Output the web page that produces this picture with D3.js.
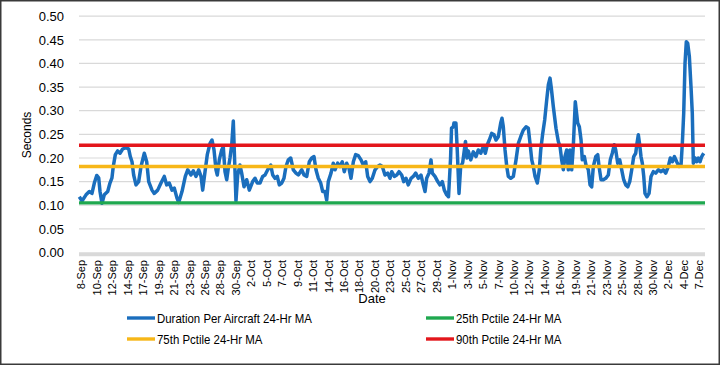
<!DOCTYPE html>
<html>
<head>
<meta charset="utf-8">
<script src="https://cdn.jsdelivr.net/npm/d3@7"></script>
<style>
  body { margin: 0; background: #fff; }
  svg { display: block; font-family: "Liberation Sans", Arial, sans-serif; }
</style>
</head>
<body>
<svg width="720" height="365"></svg>
<script>
var svg = d3.select("svg");
var width = 720;
var height = 365;

// x tick labels, one every 2.25 days (54 hourly points)
var dateLabels = ["8-Sep", "10-Sep", "12-Sep", "14-Sep", "17-Sep", "19-Sep", "21-Sep", "23-Sep",
  "26-Sep", "28-Sep", "30-Sep", "2-Oct", "5-Oct", "7-Oct", "9-Oct", "11-Oct", "14-Oct", "16-Oct",
  "18-Oct", "20-Oct", "23-Oct", "25-Oct", "27-Oct", "29-Oct", "1-Nov", "3-Nov", "5-Nov", "7-Nov",
  "10-Nov", "12-Nov", "14-Nov", "16-Nov", "19-Nov", "21-Nov", "23-Nov", "25-Nov", "28-Nov",
  "30-Nov", "2-Dec", "4-Dec", "7-Dec"];
var labelStep = 2.25;

var yTicks = [0, 0.05, 0.10, 0.15, 0.20, 0.25, 0.30, 0.35, 0.40, 0.45, 0.50];

// days since 8-Sep
var dayOffset = [
  -0.25, 0.15, 0.73, 1.21, 1.6, 1.94, 2.29, 2.58, 2.77, 3.06, 3.39, 3.89, 4.22, 4.51, 4.7, 5.0,
  5.34, 5.68, 6.07, 6.55, 6.95, 7.18, 7.43, 7.67, 8.01, 8.4, 8.74, 9.22, 9.57, 9.86, 10.34, 10.67,
  11.17, 11.65, 12.13, 12.48, 12.86, 13.25, 13.59, 13.98, 14.23, 14.71, 15.19, 15.54, 16.02, 16.35,
  16.75, 17.14, 17.48, 17.72, 18.06, 18.39, 18.79, 19.08, 19.37, 19.66, 19.85, 20.14, 20.49, 20.72,
  20.97, 21.22, 21.45, 21.7, 21.95, 22.18, 22.38, 22.57, 22.82, 23.15, 23.4, 23.74, 24.13, 24.51,
  25.0, 25.34, 25.67, 26.07, 26.46, 26.8, 27.19, 27.63, 27.92, 28.25, 28.59, 28.88, 29.23, 29.56,
  29.85, 30.19, 30.54, 30.92, 31.31, 31.65, 32.14, 32.48, 32.87, 33.25, 33.6, 33.93, 34.22, 34.56,
  34.91, 35.2, 35.53, 35.78, 36.01, 36.41, 36.74, 36.99, 37.38, 37.72, 38.05, 38.34, 38.69, 39.03,
  39.32, 39.66, 40.0, 40.38, 40.78, 41.11, 41.46, 41.75, 42.09, 42.42, 42.82, 43.21, 43.54, 43.88,
  44.27, 44.66, 45.0, 45.25, 45.63, 45.98, 46.31, 46.7, 47.0, 47.33, 47.66, 48.06, 48.39, 48.74,
  49.12, 49.51, 49.85, 50.1, 50.34, 50.68, 50.97, 51.16, 51.55, 51.95, 52.28, 52.62, 52.91, 53.26,
  53.52, 53.82, 53.96, 54.22, 54.31, 54.6, 54.79, 55.05, 55.29, 55.58, 55.99, 56.21, 56.4, 56.75,
  57.13, 57.52, 57.86, 58.21, 58.59, 58.88, 59.17, 59.46, 59.81, 60.15, 60.44, 60.77, 61.12, 61.31,
  61.5, 61.75, 62.0, 62.23, 62.58, 62.96, 63.35, 63.69, 64.03, 64.41, 64.81, 65.14, 65.39, 65.64,
  65.87, 66.12, 66.45, 66.74, 66.95, 67.24, 67.53, 67.82, 68.06, 68.3, 68.49, 68.78, 69.17, 69.51,
  69.76, 70.0, 70.24, 70.48, 70.73, 70.97, 71.21, 71.46, 71.69, 71.98, 72.33, 72.57, 72.82, 73.0,
  73.3, 73.54, 73.88, 74.13, 74.37, 74.61, 74.96, 75.25, 75.44, 75.73, 76.06, 76.41, 76.79, 77.08,
  77.37, 77.66, 77.87, 78.16, 78.45, 78.74, 79.03, 79.33, 79.62, 79.91, 80.2, 80.49, 80.78, 80.97,
  81.16, 81.36, 81.55, 81.74, 81.95, 82.13, 82.42, 82.72, 83.01, 83.34, 83.69, 84.07, 84.47, 84.8,
  85.15, 85.53, 85.82, 86.11, 86.41, 86.75, 87.09, 87.38, 87.57, 87.77, 87.96, 88.15, 88.35, 88.59,
  88.83, 89.02, 89.17, 89.42, 89.66, 89.9, 90.15, 90.39, 90.68];

// seconds, duration per aircraft 24-hr moving average
var duration = [
  0.118, 0.109, 0.122, 0.129, 0.125, 0.147, 0.163, 0.158, 0.129, 0.104, 0.122, 0.129, 0.147, 0.158, 0.182, 0.207,
  0.215, 0.21, 0.219, 0.222, 0.219, 0.203, 0.192, 0.164, 0.143, 0.15, 0.182, 0.21, 0.192, 0.15, 0.132, 0.125,
  0.132, 0.147, 0.161, 0.143, 0.147, 0.132, 0.136, 0.115, 0.106, 0.129, 0.161, 0.175, 0.164, 0.173,
  0.161, 0.175, 0.161, 0.132, 0.171, 0.207, 0.231, 0.238, 0.217, 0.175, 0.164, 0.196, 0.217, 0.224,
  0.171, 0.154, 0.178, 0.2, 0.228, 0.278, 0.192, 0.109, 0.164, 0.185, 0.168, 0.139, 0.154, 0.132,
  0.15, 0.157, 0.147, 0.147, 0.161, 0.164, 0.175, 0.185, 0.164, 0.157, 0.161, 0.143, 0.147, 0.157,
  0.182, 0.196, 0.2, 0.175, 0.168, 0.164, 0.175, 0.164, 0.161, 0.192, 0.2, 0.203, 0.175, 0.157,
  0.147, 0.129, 0.129, 0.111, 0.15, 0.168, 0.189, 0.175, 0.189, 0.182, 0.192, 0.171, 0.189, 0.178,
  0.157, 0.192, 0.207, 0.205, 0.196, 0.185, 0.192, 0.161, 0.15, 0.157, 0.175, 0.182, 0.185, 0.182,
  0.164, 0.168, 0.157, 0.171, 0.161, 0.164, 0.171, 0.164, 0.15, 0.157, 0.143, 0.157, 0.161, 0.168,
  0.157, 0.164, 0.143, 0.129, 0.157, 0.168, 0.196, 0.168, 0.161, 0.15, 0.143, 0.15, 0.132, 0.122,
  0.118, 0.2, 0.263, 0.266, 0.274, 0.274, 0.217, 0.125, 0.182, 0.19, 0.235, 0.2, 0.215, 0.196,
  0.213, 0.203, 0.217, 0.21, 0.224, 0.21, 0.228, 0.238, 0.252, 0.249, 0.238, 0.245, 0.274, 0.284,
  0.266, 0.217, 0.182, 0.161, 0.157, 0.161, 0.196, 0.231, 0.245, 0.259, 0.266, 0.263, 0.231, 0.196,
  0.182, 0.161, 0.147, 0.175, 0.217, 0.252, 0.281, 0.323, 0.355, 0.369, 0.348, 0.309, 0.263, 0.235,
  0.224, 0.196, 0.175, 0.203, 0.217, 0.175, 0.217, 0.175, 0.224, 0.319, 0.274, 0.266, 0.238, 0.196,
  0.203, 0.185, 0.175, 0.143, 0.139, 0.182, 0.203, 0.207, 0.182, 0.154, 0.154, 0.157, 0.164, 0.196,
  0.21, 0.228, 0.217, 0.189, 0.196, 0.175, 0.154, 0.143, 0.139, 0.15, 0.175, 0.203, 0.21, 0.231,
  0.249, 0.228, 0.203, 0.189, 0.161, 0.125, 0.118, 0.125, 0.161, 0.171, 0.168, 0.175, 0.171, 0.175,
  0.168, 0.182, 0.2, 0.192, 0.203, 0.192, 0.182, 0.185, 0.231, 0.295, 0.40, 0.446, 0.443, 0.415,
  0.351, 0.295, 0.189, 0.2, 0.192, 0.2, 0.192, 0.203, 0.21];

var seriesNames = ["Duration Per Aircraft 24-Hr MA", "25th Pctile 24-Hr MA",
                   "75th Pctile 24-Hr MA", "90th Pctile 24-Hr MA"];
var pctileValues = [0.105, 0.182, 0.227];   // 25th, 75th, 90th
var colors = ["#1A6EBD", "#1FA84F", "#F7B718", "#E3161C"];

var render = function() {
  svg.append("rect")
      .attr("width", width).attr("height", height)
      .attr("fill", "#fff");

  var x = d3.scaleLinear()
    .domain([-0.29, 90.87])
    .range([79, 705]);
  var y = d3.scaleLinear()
    .domain([0, 0.5])
    .range([252.5, 16.2]);

  // gridlines
  svg.append("g")
    .selectAll("line")
    .data(yTicks.slice(1))
    .join("line")
      .attr("x1", x.range()[0]).attr("x2", x.range()[1])
      .attr("y1", d => y(d)).attr("y2", d => y(d))
      .attr("stroke", "#D9D9D9")
      .attr("stroke-width", 1.2);

  // y axis labels
  var yAxis = d3.axisLeft(y)
    .tickValues(yTicks)
    .tickFormat(d3.format(".2f"))
    .tickSize(0)
    .tickPadding(0);
  svg.append("g")
      .attr("transform", "translate(64,0)")
    .call(yAxis)
    .call(g => g.select(".domain").remove())
    .selectAll("text")
      .attr("font-family", "Liberation Sans, Arial, sans-serif")
      .attr("font-size", 13)
      .attr("fill", "#000");

  svg.append("text")
      .attr("transform", "rotate(-90)")
      .attr("y", 31)
      .attr("x", -135)
      .style("text-anchor", "middle")
      .attr("font-size", 12)
      .text("Seconds");

  // x axis
  var tickPos = dateLabels.map((d, i) => i * labelStep);
  var xAxis = d3.axisBottom(x)
    .tickValues(tickPos)
    .tickFormat((d, i) => dateLabels[i])
    .tickSize(0);
  svg.append("g")
      .attr("transform", "translate(0,254)")
    .call(xAxis)
    .call(g => g.select(".domain").remove())
    .selectAll("text")
      .attr("font-family", "Liberation Sans, Arial, sans-serif")
      .attr("font-size", 11)
      .attr("fill", "#000")
      .attr("transform", "rotate(-90)")
      .attr("dy", "0.35em")
      .attr("x", -6)
      .attr("y", 0)
      .style("text-anchor", "end");

  svg.append("line")
      .attr("x1", x.range()[0]).attr("x2", x.range()[1])
      .attr("y1", 254.2).attr("y2", 254.2)
      .attr("stroke", "#D9D9D9")
      .attr("stroke-width", 4);

  svg.append("text")
      .style("text-anchor", "middle")
      .attr("x", 372)
      .attr("y", 303)
      .attr("font-size", 13)
      .text("Date");

  // series
  var line = d3.line()
    .x(d => x(d[0]))
    .y(d => y(d[1]))
    .curve(d3.curveLinear);

  svg.append("path")
      .attr("fill", "none")
      .attr("stroke", colors[0])
      .attr("stroke-width", 3.5)
      .attr("stroke-linejoin", "round")
      .attr("d", line(d3.zip(dayOffset, duration)));

  pctileValues.forEach(function(v, i) {
    svg.append("path")
        .attr("fill", "none")
        .attr("stroke", colors[i + 1])
        .attr("stroke-width", 3.4)
        .attr("d", line([[x.domain()[0], v], [x.domain()[1], v]]));
  });

  // legend
  var legendPos = [[127, 318], [426, 318], [127, 339], [426, 339]];
  seriesNames.forEach(function(name, i) {
    var g = svg.append("g")
        .attr("transform", "translate(" + legendPos[i][0] + "," + legendPos[i][1] + ")");
    g.append("line")
        .attr("x1", 0).attr("x2", 28)
        .attr("stroke", colors[i])
        .attr("stroke-width", 3.4);
    g.append("text")
        .attr("transform", "translate(30,0) scale(0.88,1)")
        .attr("dy", "0.35em")
        .attr("font-size", 13)
        .text(name);
  });

  // chart frame
  svg.append("rect")
      .attr("x", 0.75).attr("y", 0.75)
      .attr("width", width - 1.5).attr("height", height - 1.5)
      .attr("fill", "none")
      .attr("stroke", "#3a3a3a")
      .attr("stroke-width", 1.5);
};

render();
</script>
</body>
</html>
